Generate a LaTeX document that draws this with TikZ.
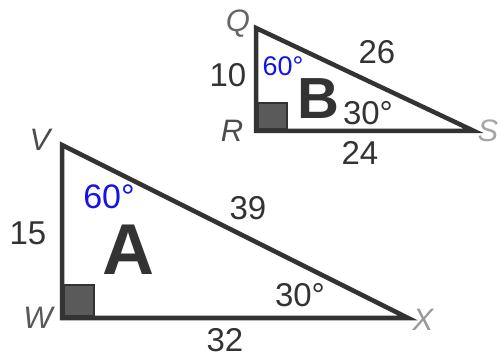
\documentclass[tikz,border=0pt]{standalone}
\usepackage{fontspec}
\setmainfont{Liberation Sans}
\usetikzlibrary{positioning}
\definecolor{linegray}{HTML}{333333}
\definecolor{boxgray}{HTML}{5A5A5A}
\definecolor{penblue}{HTML}{1414E6}

\begin{document}
\begin{tikzpicture}[x=1pt, y=-1pt,
  side/.style={draw=linegray, line width=4.5pt, line join=miter, miter limit=20},
  corner/.style={draw=linegray, fill=boxgray, line width=2.5pt},
  vert/.style={font=\fontsize{31}{31}\selectfont\itshape, inner sep=0pt},
  len/.style={font=\fontsize{33}{33}\selectfont, text=linegray, inner sep=0pt},
  big/.style={font=\bfseries, text=linegray, inner sep=0pt},
  pen/.style={text=penblue, inner sep=0pt}
]
  \useasboundingbox (0,0) rectangle (501,358);

  % triangle B
  \coordinate (Q) at (256,28);
  \coordinate (R) at (256,131);
  \coordinate (S) at (474,131);
  \draw[corner] (258,103) rectangle (287,129);
  \draw[side] (Q) -- (R) -- (S) -- cycle;
  \node[vert, text=black!60] (lQ) at (238,24)  {Q};
  \node[vert, text=black!70] (lR) at (232,131) {R};
  \node[vert, text=black!35] (lS) at (488,131) {S};
  \node[len] (QS) at (377,52)  {26};
  \node[len] (QR) at (228,75)  {10};
  \node[len] (RS) at (360,153) {24};
  \node[big, font=\fontsize{58}{58}\selectfont\bfseries] (nB) at (318,99) {B};
  \node[len] (angS) at (368,113) {30°};
  \node[pen, font=\fontsize{27}{27}\selectfont] (angQ) at (283,66) {60°};

  % triangle A
  \coordinate (V) at (62,145);
  \coordinate (W) at (62,318);
  \coordinate (X) at (408,318);
  \draw[corner] (64,285) rectangle (94,316);
  \draw[side] (V) -- (W) -- (X) -- cycle;
  \node[vert, text=black!70] (lV) at (40,140)  {V};
  \node[vert, text=black!65] (lW) at (38,318)  {W};
  \node[vert, text=black!40] (lX) at (423,320) {X};
  \node[len] (VW) at (28,233)  {15};
  \node[len] (VX) at (248,208) {39};
  \node[len] (WX) at (225,340) {32};
  \node[big, font=\fontsize{72}{72}\selectfont\bfseries] (nA) at (128,250) {A};
  \node[len] (angX) at (300,295) {30°};
  \node[pen, font=\fontsize{34}{34}\selectfont] (angV) at (109,197) {60°};
\end{tikzpicture}
\end{document}
